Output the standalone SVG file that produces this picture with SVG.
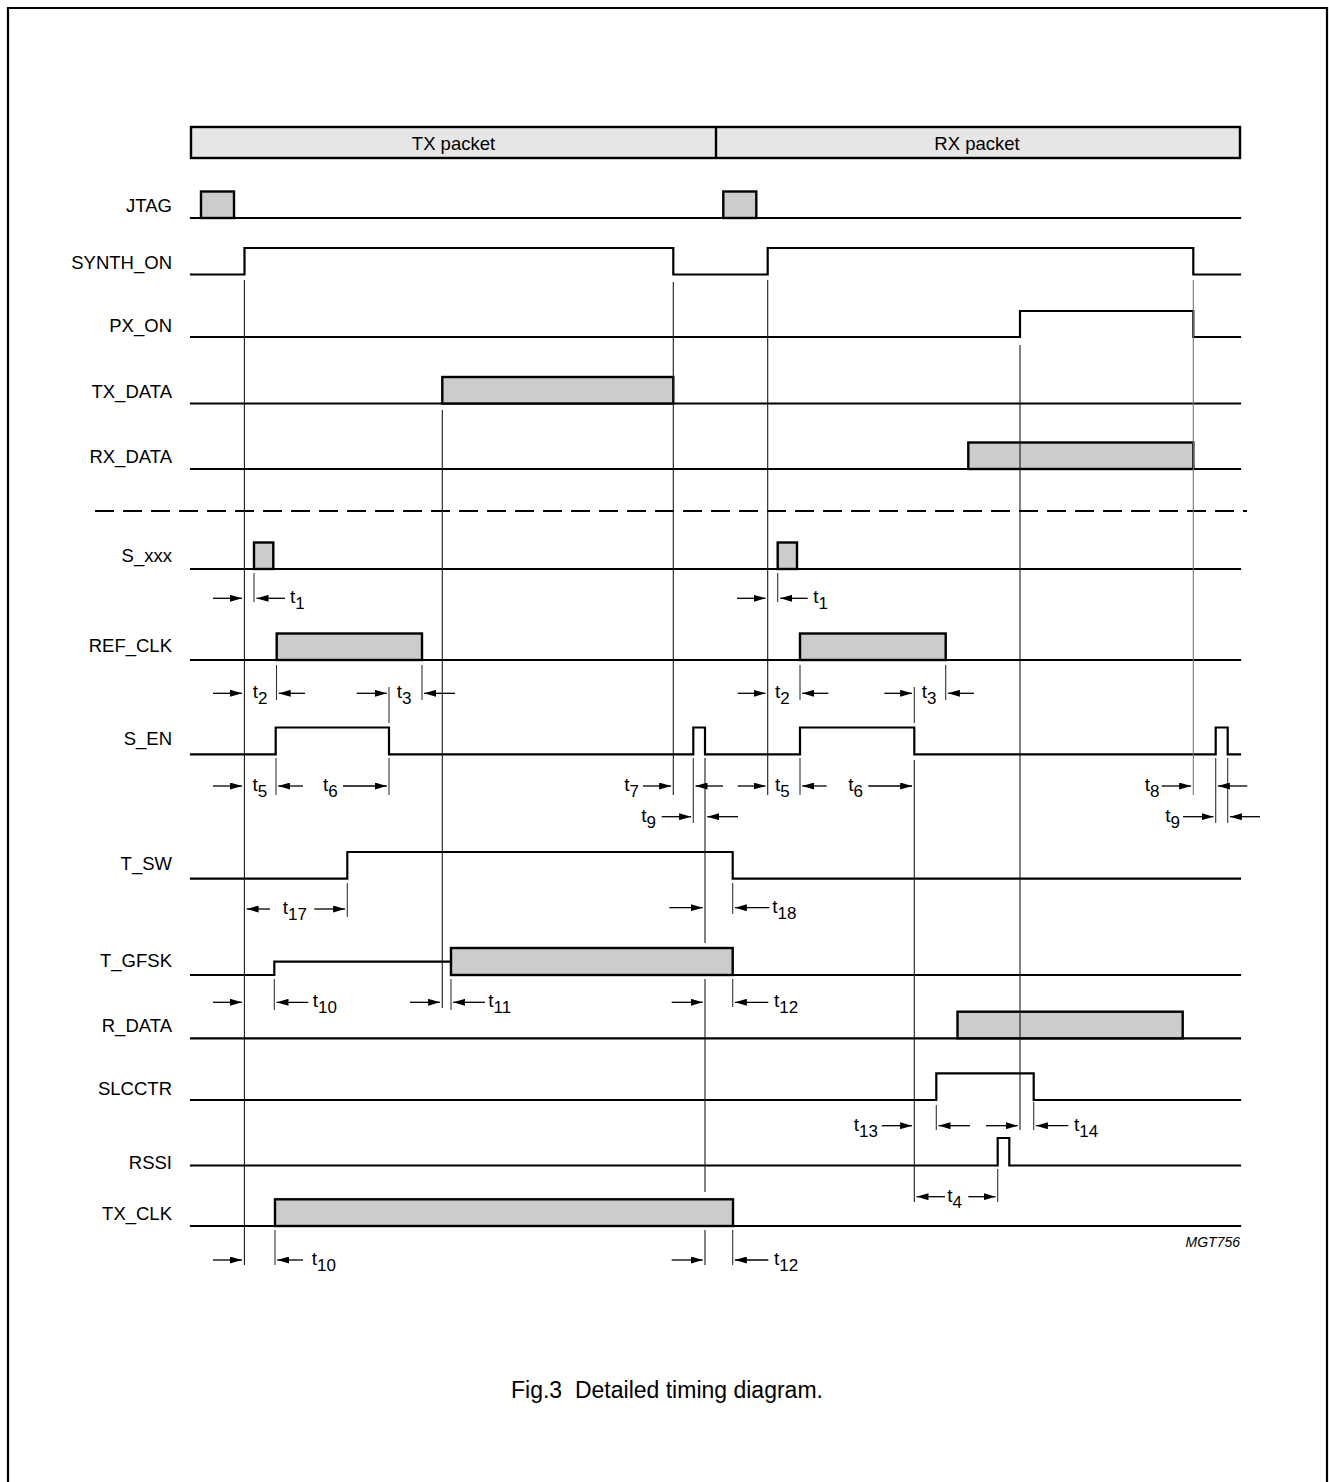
<svg xmlns="http://www.w3.org/2000/svg" width="1329" height="1482" viewBox="0 0 1329 1482">
<defs>
<marker id="ah" markerUnits="userSpaceOnUse" markerWidth="12" markerHeight="7" refX="12" refY="3.5" orient="auto">
<path d="M0,0 L12,3.5 L0,7 z" fill="#000"/>
</marker>
<style>
.sig{fill:none;stroke:#000;stroke-width:2.2;stroke-linejoin:miter;stroke-linecap:square}
.box{fill:#cccccc;stroke:#000;stroke-width:2.4}
.pk{fill:#e6e6e6;stroke:#000;stroke-width:2.4}
.ref{stroke:#1a1a1a;stroke-width:1.1;fill:none}
.refg{stroke:#777;stroke-width:1.1;fill:none}
.tick{stroke:#333;stroke-width:1.1;fill:none}
.arr{stroke:#000;stroke-width:1.3;fill:none;marker-end:url(#ah)}
text{font-family:"Liberation Sans",Arial,Helvetica,sans-serif;fill:#000}
.lbl{font-size:18.5px;text-anchor:end}
.tl{font-size:19px}
.sub{font-size:17px}
</style>
</defs>
<rect x="0" y="0" width="1329" height="1482" fill="#fff"/>
<path d="M8,1482 V8 H1327 V1482" fill="none" stroke="#000" stroke-width="2.2"/>

<g id="packets">
<rect class="pk" x="191" y="127" width="1049" height="31"/>
<line x1="716" y1="127" x2="716" y2="158" stroke="#000" stroke-width="2.4"/>
<text x="453.5" y="150" font-size="18.5" text-anchor="middle">TX packet</text>
<text x="977" y="150" font-size="18.5" text-anchor="middle">RX packet</text>
</g>

<g id="sig-jtag">
<text class="lbl" x="172" y="212">JTAG</text>
<line class="sig" x1="191" y1="218" x2="1240" y2="218"/>
<rect class="box" x="201" y="191.5" width="33" height="26.5"/>
<rect class="box" x="723.3" y="191.5" width="33" height="26.5"/>
</g>

<g id="sig-synth_on">
<text class="lbl" x="172" y="268.5">SYNTH_ON</text>
<path class="sig" d="M191,274.5 H244.5 V248 H673.3 V274.5 H767.7 V248 H1193.3 V274.5 H1240"/>
</g>

<g id="sig-px_on">
<text class="lbl" x="172" y="332">PX_ON</text>
<path class="sig" d="M191,337 H1020 V311 H1193.3 V337 H1240"/>
</g>

<g id="sig-tx_data">
<text class="lbl" x="172" y="397.5">TX_DATA</text>
<line class="sig" x1="191" y1="403.5" x2="1240" y2="403.5"/>
<rect class="box" x="442.3" y="377" width="231" height="26.5"/>
</g>

<g id="sig-rx_data">
<text class="lbl" x="172" y="463">RX_DATA</text>
<line class="sig" x1="191" y1="469" x2="1240" y2="469"/>
<rect class="box" x="968.3" y="442.5" width="225" height="26.5"/>
</g>

<line id="separator" x1="95" y1="511" x2="1247" y2="511" stroke="#000" stroke-width="2" stroke-dasharray="19 9"/>

<g id="sig-s_xxx">
<text class="lbl" x="172" y="562">S_xxx</text>
<line class="sig" x1="191" y1="569" x2="1240" y2="569"/>
<rect class="box" x="254" y="542.5" width="19.3" height="26.5"/>
<rect class="box" x="777.7" y="542.5" width="19.3" height="26.5"/>
</g>

<g id="sig-ref_clk">
<text class="lbl" x="172" y="652">REF_CLK</text>
<line class="sig" x1="191" y1="660" x2="1240" y2="660"/>
<rect class="box" x="276.7" y="633.5" width="145.3" height="26.5"/>
<rect class="box" x="800" y="633.5" width="145.7" height="26.5"/>
</g>

<g id="sig-s_en">
<text class="lbl" x="172" y="745">S_EN</text>
<path class="sig" d="M191,754.3 H275.7 V727.5 H389 V754.3 H693.3 V727.5 H705 V754.3 H800 V727.5 H914.3 V754.3 H1215.7 V727.5 H1227.7 V754.3 H1240"/>
</g>

<g id="sig-t_sw">
<text class="lbl" x="172" y="870">T_SW</text>
<path class="sig" d="M191,878.7 H347.3 V852 H732.7 V878.7 H1240"/>
</g>

<g id="sig-t_gfsk">
<text class="lbl" x="172" y="967">T_GFSK</text>
<path class="sig" d="M191,975 H274.3 V961.7 H451"/>
<rect class="box" x="451" y="948" width="281.7" height="27"/>
<line class="sig" x1="732.7" y1="975" x2="1240" y2="975"/>
</g>

<g id="sig-r_data">
<text class="lbl" x="172" y="1032">R_DATA</text>
<line class="sig" x1="191" y1="1038.3" x2="1240" y2="1038.3"/>
<rect class="box" x="957.5" y="1011.7" width="225.2" height="26.6"/>
</g>

<g id="sig-slcctr">
<text class="lbl" x="172" y="1095">SLCCTR</text>
<path class="sig" d="M191,1100 H936.3 V1073.3 H1033.7 V1100 H1240"/>
</g>

<g id="sig-rssi">
<text class="lbl" x="172" y="1169">RSSI</text>
<path class="sig" d="M191,1165.5 H997.7 V1138 H1009.3 V1165.5 H1240"/>
</g>

<g id="sig-tx_clk">
<text class="lbl" x="172" y="1220">TX_CLK</text>
<line class="sig" x1="191" y1="1226" x2="1240" y2="1226"/>
<rect class="box" x="275" y="1199.3" width="458" height="26.7"/>
</g>

<g id="connectors">
<line class="ref" x1="244.4" y1="280" x2="244.4" y2="1265"/>
<line class="ref" x1="442.3" y1="410" x2="442.3" y2="1008"/>
<line class="ref" x1="673.3" y1="282" x2="673.3" y2="795"/>
<line class="ref" x1="767.7" y1="280" x2="767.7" y2="795"/>
<line class="ref" x1="1020" y1="345" x2="1020" y2="1130"/>
<line class="refg" x1="1193.3" y1="280" x2="1193.3" y2="795"/>
<line class="ref" x1="705" y1="758" x2="705" y2="943"/>
<line class="ref" x1="705" y1="979" x2="705" y2="1192"/>
<line class="ref" x1="705" y1="1230" x2="705" y2="1265"/>
<line class="ref" x1="914.3" y1="760" x2="914.3" y2="1202"/>
<line class="tick" x1="254" y1="573" x2="254" y2="602"/>
<line class="tick" x1="777.7" y1="573" x2="777.7" y2="602"/>
<line class="tick" x1="276.5" y1="665" x2="276.5" y2="700"/>
<line class="tick" x1="422" y1="665" x2="422" y2="700"/>
<line class="tick" x1="389" y1="687" x2="389" y2="723"/>
<line class="tick" x1="800" y1="665" x2="800" y2="700"/>
<line class="tick" x1="945.7" y1="665" x2="945.7" y2="700"/>
<line class="tick" x1="914.3" y1="687" x2="914.3" y2="723"/>
<line class="tick" x1="276" y1="758" x2="276" y2="795"/>
<line class="tick" x1="389" y1="758" x2="389" y2="795"/>
<line class="tick" x1="800" y1="758" x2="800" y2="795"/>
<line class="tick" x1="693.3" y1="758" x2="693.3" y2="823"/>
<line class="tick" x1="1215.7" y1="758" x2="1215.7" y2="823"/>
<line class="tick" x1="1227.7" y1="758" x2="1227.7" y2="823"/>
<line class="tick" x1="347.3" y1="883" x2="347.3" y2="917"/>
<line class="tick" x1="732.7" y1="883" x2="732.7" y2="914"/>
<line class="tick" x1="274.3" y1="979" x2="274.3" y2="1010"/>
<line class="tick" x1="451" y1="979" x2="451" y2="1010"/>
<line class="tick" x1="732.7" y1="979" x2="732.7" y2="1007"/>
<line class="tick" x1="936.3" y1="1105" x2="936.3" y2="1130"/>
<line class="tick" x1="1033.7" y1="1102" x2="1033.7" y2="1130"/>
<line class="tick" x1="997.7" y1="1169" x2="997.7" y2="1202"/>
<line class="tick" x1="275" y1="1230" x2="275" y2="1265"/>
<line class="tick" x1="732.7" y1="1230" x2="732.7" y2="1265"/>

<line class="arr" x1="213" y1="598.3" x2="242" y2="598.3"/>
<line class="arr" x1="285" y1="598.3" x2="256.5" y2="598.3"/>
<line class="arr" x1="737" y1="598.3" x2="765.5" y2="598.3"/>
<line class="arr" x1="807.7" y1="598.3" x2="780.2" y2="598.3"/>

<line class="arr" x1="213" y1="693.3" x2="242" y2="693.3"/>
<line class="arr" x1="305" y1="693.3" x2="278.7" y2="693.3"/>
<line class="arr" x1="356.7" y1="693.3" x2="386.8" y2="693.3"/>
<line class="arr" x1="455" y1="693.3" x2="424.2" y2="693.3"/>
<line class="arr" x1="737.7" y1="693.3" x2="765.5" y2="693.3"/>
<line class="arr" x1="828.3" y1="693.3" x2="802.2" y2="693.3"/>
<line class="arr" x1="884.3" y1="693.3" x2="912.1" y2="693.3"/>
<line class="arr" x1="974" y1="693.3" x2="947.9" y2="693.3"/>

<line class="arr" x1="213" y1="786" x2="242" y2="786"/>
<line class="arr" x1="303" y1="786" x2="278.2" y2="786"/>
<line class="arr" x1="343" y1="786" x2="386.8" y2="786"/>
<line class="arr" x1="643" y1="786" x2="671.1" y2="786"/>
<line class="arr" x1="723" y1="786" x2="695.5" y2="786"/>
<line class="arr" x1="737.7" y1="786" x2="765.5" y2="786"/>
<line class="arr" x1="826.7" y1="786" x2="802.2" y2="786"/>
<line class="arr" x1="868.3" y1="786" x2="912.1" y2="786"/>
<line class="arr" x1="1161.7" y1="786" x2="1191.1" y2="786"/>
<line class="arr" x1="1247.3" y1="786" x2="1217.9" y2="786"/>

<line class="arr" x1="661.7" y1="816.7" x2="691.1" y2="816.7"/>
<line class="arr" x1="738" y1="816.7" x2="707.2" y2="816.7"/>
<line class="arr" x1="1183" y1="816.7" x2="1213.5" y2="816.7"/>
<line class="arr" x1="1260" y1="816.7" x2="1229.9" y2="816.7"/>

<line class="arr" x1="270" y1="909" x2="246.6" y2="909"/>
<line class="arr" x1="314.3" y1="909" x2="345.1" y2="909"/>
<line class="arr" x1="669.3" y1="907.7" x2="702.8" y2="907.7"/>
<line class="arr" x1="769.3" y1="907.7" x2="734.9" y2="907.7"/>

<line class="arr" x1="213" y1="1002.3" x2="242" y2="1002.3"/>
<line class="arr" x1="308.3" y1="1002.3" x2="276.5" y2="1002.3"/>
<line class="arr" x1="410" y1="1002.3" x2="440.1" y2="1002.3"/>
<line class="arr" x1="485" y1="1002.3" x2="453.2" y2="1002.3"/>
<line class="arr" x1="671.7" y1="1002.3" x2="702.8" y2="1002.3"/>
<line class="arr" x1="768.3" y1="1002.3" x2="734.9" y2="1002.3"/>

<line class="arr" x1="881.7" y1="1125.7" x2="912.1" y2="1125.7"/>
<line class="arr" x1="970" y1="1125.7" x2="938.5" y2="1125.7"/>
<line class="arr" x1="986" y1="1125.7" x2="1017.8" y2="1125.7"/>
<line class="arr" x1="1068.3" y1="1125.7" x2="1035.9" y2="1125.7"/>

<line class="arr" x1="945" y1="1196.7" x2="916.5" y2="1196.7"/>
<line class="arr" x1="968.3" y1="1196.7" x2="995.5" y2="1196.7"/>

<line class="arr" x1="213" y1="1260" x2="242" y2="1260"/>
<line class="arr" x1="303" y1="1260" x2="277.2" y2="1260"/>
<line class="arr" x1="671.7" y1="1260" x2="702.8" y2="1260"/>
<line class="arr" x1="768.3" y1="1260" x2="734.9" y2="1260"/>
</g>

<g id="timing-labels">
<text class="tl" x="290" y="603.3">t<tspan class="sub" dy="6">1</tspan></text>
<text class="tl" x="813.3" y="603.3">t<tspan class="sub" dy="6">1</tspan></text>
<text class="tl" x="252.7" y="698.3">t<tspan class="sub" dy="6">2</tspan></text>
<text class="tl" x="396.7" y="698.3">t<tspan class="sub" dy="6">3</tspan></text>
<text class="tl" x="775" y="698.3">t<tspan class="sub" dy="6">2</tspan></text>
<text class="tl" x="921.7" y="698.3">t<tspan class="sub" dy="6">3</tspan></text>
<text class="tl" x="252.5" y="791">t<tspan class="sub" dy="6">5</tspan></text>
<text class="tl" x="323" y="791">t<tspan class="sub" dy="6">6</tspan></text>
<text class="tl" x="639" y="791" text-anchor="end">t<tspan class="sub" dy="6">7</tspan></text>
<text class="tl" x="775" y="791">t<tspan class="sub" dy="6">5</tspan></text>
<text class="tl" x="848.3" y="791">t<tspan class="sub" dy="6">6</tspan></text>
<text class="tl" x="1159.5" y="791" text-anchor="end">t<tspan class="sub" dy="6">8</tspan></text>
<text class="tl" x="656" y="821.7" text-anchor="end">t<tspan class="sub" dy="6">9</tspan></text>
<text class="tl" x="1180" y="821.7" text-anchor="end">t<tspan class="sub" dy="6">9</tspan></text>
<text class="tl" x="282.7" y="914">t<tspan class="sub" dy="6">17</tspan></text>
<text class="tl" x="772.3" y="912.7">t<tspan class="sub" dy="6">18</tspan></text>
<text class="tl" x="312.7" y="1007.3">t<tspan class="sub" dy="6">10</tspan></text>
<text class="tl" x="488.3" y="1007.3">t<tspan class="sub" dy="6">11</tspan></text>
<text class="tl" x="774" y="1007.3">t<tspan class="sub" dy="6">12</tspan></text>
<text class="tl" x="878" y="1130.7" text-anchor="end">t<tspan class="sub" dy="6">13</tspan></text>
<text class="tl" x="1074" y="1130.7">t<tspan class="sub" dy="6">14</tspan></text>
<text class="tl" x="947.3" y="1201.7">t<tspan class="sub" dy="6">4</tspan></text>
<text class="tl" x="311.7" y="1265">t<tspan class="sub" dy="6">10</tspan></text>
<text class="tl" x="774" y="1265">t<tspan class="sub" dy="6">12</tspan></text>
</g>

<text x="1240" y="1246.7" font-size="14" font-style="italic" text-anchor="end">MGT756</text>

<text id="caption" x="667" y="1398" font-size="23" text-anchor="middle" xml:space="preserve">Fig.3  Detailed timing diagram.</text>
</svg>
